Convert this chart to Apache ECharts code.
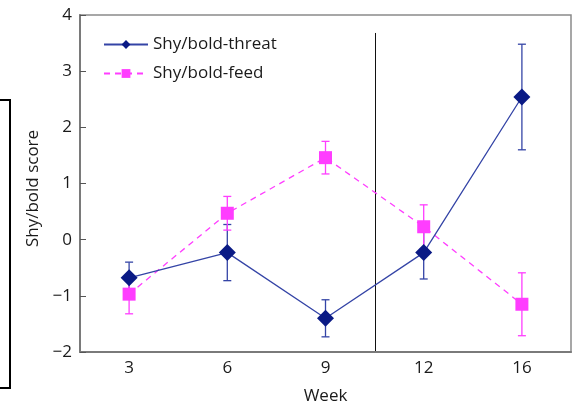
<!DOCTYPE html>
<html><head><meta charset="utf-8">
<script src="https://cdn.jsdelivr.net/npm/echarts@6/dist/echarts.min.js"></script>
<style>html,body{margin:0;padding:0;background:#fff}#c{width:572px;height:405px}</style>
</head><body><div id="c"></div>
<script>
const weeks = ['3','6','9','12','16'];
const threatMean = [-0.68, -0.23, -1.40, -0.23, 2.54];
const threatErr  = [0.28, 0.50, 0.33, 0.47, 0.94];
const feedMean   = [-0.97, 0.47, 1.46, 0.23, -1.15];
const feedErr    = [0.35, 0.30, 0.29, 0.39, 0.56];
const dividerAfterIndex = 2;   // vertical line between week 9 and week 12
const dividerTop = 3.68;
const yTicks = [-2, -1, 0, 1, 2, 3, 4];

const NAVY = '#0a1a85', NAVYLINE = '#3444a6', MAG = '#ff3dff';
const FONT = 'Open Sans';
const TXT = '#1a1a1a';

function errData(m, e){ return m.map((v,i)=>[i, v-e[i], v+e[i]]); }
function errSeries(name, m, e, color){
  return {
    type:'custom', name:name+'-err', z:1, silent:true,
    data: errData(m,e),
    renderItem:(params, api)=>{
      const x = api.value(0);
      const lo = api.coord([x, api.value(1)]);
      const hi = api.coord([x, api.value(2)]);
      const w = 4;
      const st = {stroke:color, lineWidth:1.3, fill:null};
      return {type:'group', children:[
        {type:'line', shape:{x1:lo[0],y1:lo[1],x2:hi[0],y2:hi[1]}, style:st},
        {type:'line', shape:{x1:lo[0]-w,y1:lo[1],x2:lo[0]+w,y2:lo[1]}, style:st},
        {type:'line', shape:{x1:hi[0]-w,y1:hi[1],x2:hi[0]+w,y2:hi[1]}, style:st}
      ]};
    }
  };
}

const chart = echarts.init(document.getElementById('c'), null, {renderer:'canvas'});
chart.setOption({
  animation:false,
  textStyle:{fontFamily:FONT},
  grid:{left:80, right:1, top:15, bottom:53, show:true, borderColor:'#8a8a8a', borderWidth:1.5,
        containLabel:false, outerBoundsMode:'none'},
  legend:{
    left:98, top:31, orient:'vertical', itemWidth:44, itemHeight:11, itemGap:12,
    data:['Shy/bold-threat','Shy/bold-feed'],
    textStyle:{fontFamily:FONT, fontSize:17, color:TXT}
  },
  xAxis:{
    type:'category', data:weeks, boundaryGap:true,
    name:'Week', nameLocation:'middle', nameGap:36,
    nameTextStyle:{fontFamily:FONT, fontSize:17, color:TXT},
    axisLine:{onZero:false, lineStyle:{color:'#7a7a7a', width:2}},
    axisTick:{inside:true, length:6, lineStyle:{color:'#333', width:1}},
    axisLabel:{fontFamily:FONT, fontSize:17, color:TXT, margin:8},
    splitLine:{show:false}
  },
  yAxis:{
    type:'value', min:-2, max:4, interval:1,
    name:'Shy/bold score', nameLocation:'middle', nameGap:31, nameRotate:90,
    nameTextStyle:{fontFamily:FONT, fontSize:17, color:TXT, padding:[0,10,0,0]},
    axisLine:{show:true, onZero:false, lineStyle:{color:'#7a7a7a', width:2}},
    axisTick:{show:true, inside:true, length:6, lineStyle:{color:'#555', width:1}},
    axisLabel:{fontFamily:FONT, fontSize:17, color:TXT, margin:8,
      formatter:v=> (v<0 ? '\u2212'+Math.abs(v) : String(v))},
    splitLine:{show:false}
  },
  graphic:[{
    type:'polyline', shape:{points:[[0,100],[10,100],[10,388],[0,388]]},
    style:{stroke:'#000', lineWidth:2, fill:null}
  }],
  series:[
    {
      type:'custom', name:'divider', z:0, silent:true, data:[[dividerAfterIndex, dividerTop]],
      renderItem:(params, api)=>{
        const top = api.coord([api.value(0), api.value(1)]);
        const bot = api.coord([api.value(0), -2]);
        const half = api.size([1,0])[0]/2;
        const x = Math.round(top[0]+half)+0.5;
        return {type:'line', shape:{x1:x,y1:top[1],x2:x,y2:bot[1]}, style:{stroke:'#111', lineWidth:1}};
      }
    },
    errSeries('threat', threatMean, threatErr, NAVYLINE),
    errSeries('feed', feedMean, feedErr, MAG),
    {
      type:'line', name:'Shy/bold-threat', data:threatMean, z:3,
      symbol:'diamond', symbolSize:[17,17],
      itemStyle:{color:NAVY},
      lineStyle:{color:NAVYLINE, width:1.3}
    },
    {
      type:'line', name:'Shy/bold-feed', data:feedMean, z:2,
      symbol:'rect', symbolSize:13,
      itemStyle:{color:MAG},
      lineStyle:{color:MAG, width:1.3, type:[6,5]}
    }
  ]
});
</script></body></html>
